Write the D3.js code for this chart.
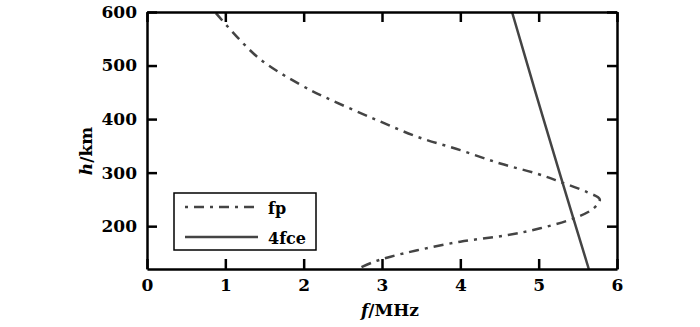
<!DOCTYPE html>
<html>
<head>
<meta charset="utf-8">
<script src="https://cdn.jsdelivr.net/npm/d3@7"></script>
<style>
  body { margin: 0; background: #fff; }
  svg text { font-family: "DejaVu Serif", serif; font-weight: bold; fill: #000; }
</style>
</head>
<body>
<svg id="chart"></svg>
<script>
// plasma frequency fp (MHz) vs height (km)
const fpData = [
  { f: 0.88, h: 598 },
  { f: 1.41, h: 516 },
  { f: 1.96, h: 464 },
  { f: 2.30, h: 439 },
  { f: 2.89, h: 401 },
  { f: 3.45, h: 367 },
  { f: 4.00, h: 342 },
  { f: 4.51, h: 317 },
  { f: 4.98, h: 298 },
  { f: 5.27, h: 283 },
  { f: 5.61, h: 264 },
  { f: 5.78, h: 250 },
  { f: 5.70, h: 233 },
  { f: 5.44, h: 214 },
  { f: 5.02, h: 196 },
  { f: 4.59, h: 183 },
  { f: 4.00, h: 171 },
  { f: 3.45, h: 155 },
  { f: 3.11, h: 143 },
  { f: 2.89, h: 133 },
  { f: 2.69, h: 120 },
];

// 4 x electron gyrofrequency
const fceData = [
  { f: 4.66, h: 600 },
  { f: 4.96, h: 450 },
  { f: 5.27, h: 298 },
  { f: 5.64, h: 120 },
];

const xTicks = [0, 1, 2, 3, 4, 5, 6];
const yTicks = [200, 300, 400, 500, 600];

const width = 700;
const height = 327;
const margin = { left: 147, right: 83, top: 12, bottom: 58 };

const svg = d3.select('#chart')
  .attr('width', width)
  .attr('height', height);

const xScale = d3.scaleLinear()
  .domain([0, 6])
  .range([margin.left, width - margin.right]);

const yScale = d3.scaleLinear()
  .domain([120, 600])
  .range([height - margin.bottom, margin.top]);

const lineColor = '#444';

// curves
const valueline = d3.line()
  .x(d => xScale(d.f))
  .y(d => yScale(d.h))
  .curve(d3.curveCatmullRom);

svg.append('path')
  .datum(fpData)
  .attr('fill', 'none')
  .attr('stroke', lineColor)
  .attr('stroke-width', 2.5)
  .attr('stroke-dasharray', '10,6,3,6')
  .attr('d', valueline);

svg.append('path')
  .datum(fceData)
  .attr('fill', 'none')
  .attr('stroke', lineColor)
  .attr('stroke-width', 2.5)
  .attr('d', valueline);

// axes, ticks inside, mirrored
const xAxis = d3.axisBottom(xScale).tickValues(xTicks).tickFormat(d3.format('d'))
  .tickSizeInner(-10).tickSizeOuter(0).tickPadding(10);
const yAxis = d3.axisLeft(yScale).tickValues(yTicks).tickFormat(d3.format('d'))
  .tickSizeInner(-10).tickSizeOuter(0).tickPadding(10);
const xTop = d3.axisTop(xScale).tickValues(xTicks).tickSizeInner(-10).tickSizeOuter(0).tickFormat('');
const yRight = d3.axisRight(yScale).tickValues(yTicks).tickSizeInner(-10).tickSizeOuter(0).tickFormat('');

const gx = svg.append('g')
  .attr('transform', `translate(0,${height - margin.bottom})`)
  .call(xAxis);
const gy = svg.append('g')
  .attr('transform', `translate(${margin.left},0)`)
  .call(yAxis);
const gxt = svg.append('g')
  .attr('transform', `translate(0,${margin.top})`)
  .call(xTop);
const gyr = svg.append('g')
  .attr('transform', `translate(${width - margin.right},0)`)
  .call(yRight);

[gx, gy, gxt, gyr].forEach(g => {
  g.attr('font-family', null).attr('font-size', null);
  g.select('.domain').attr('stroke', '#000').attr('stroke-width', 2.5);
  g.selectAll('.tick line').attr('stroke', '#000').attr('stroke-width', 2.5);
  g.selectAll('.tick text')
    .style('font-size', '17px')
    .attr('fill', '#000');
});

// axis labels
const xLabel = svg.append('text')
  .attr('x', 390)
  .attr('y', 316)
  .attr('text-anchor', 'middle')
  .style('font-size', '17px');
xLabel.append('tspan').style('font-style', 'italic').text('f');
xLabel.append('tspan').text('/MHz');

const yLabel = svg.append('text')
  .attr('transform', 'translate(92,151) rotate(-90)')
  .attr('text-anchor', 'middle')
  .style('font-size', '17px');
yLabel.append('tspan').style('font-style', 'italic').text('h');
yLabel.append('tspan').text('/km');

// legend
const legend = svg.append('g');
legend.append('rect')
  .attr('x', 174)
  .attr('y', 193)
  .attr('width', 142)
  .attr('height', 57)
  .attr('fill', '#fff')
  .attr('stroke', '#000')
  .attr('stroke-width', 1.5);

const legendItems = [
  { name: 'fp', dash: '3,6,10,6' },
  { name: '4fce', dash: null },
];

legendItems.forEach((item, i) => {
  const y = 207 + i * 30;
  legend.append('line')
    .attr('x1', 185)
    .attr('x2', 258)
    .attr('y1', y)
    .attr('y2', y)
    .attr('stroke', lineColor)
    .attr('stroke-width', 2.5)
    .attr('stroke-dasharray', item.dash);
  legend.append('text')
    .attr('x', 268)
    .attr('y', y + 7)
    .style('font-size', '16px')
    .text(item.name);
});
</script>
</body>
</html>
